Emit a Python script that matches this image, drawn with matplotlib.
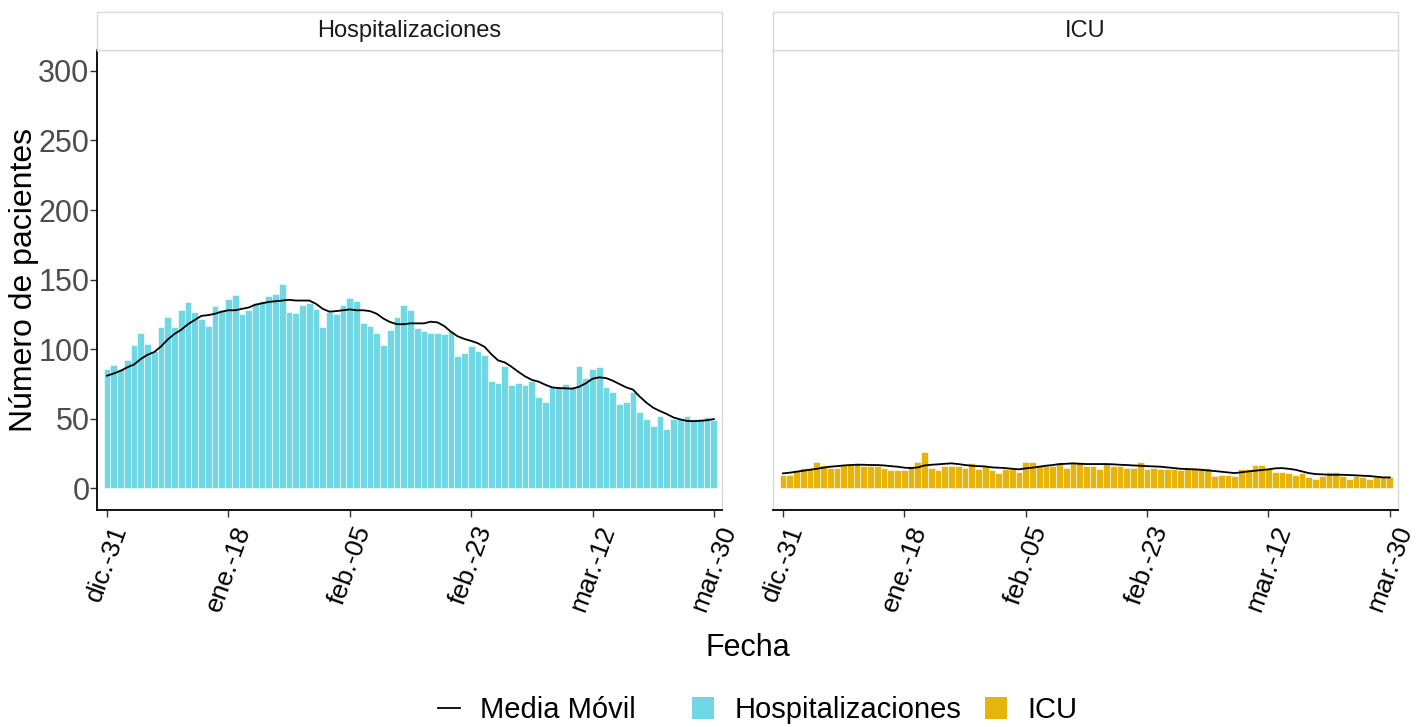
import matplotlib
matplotlib.use("Agg")
import matplotlib.pyplot as plt
from matplotlib.lines import Line2D
from matplotlib.patches import Patch
import pandas as pd

plt.rcParams['font.family'] = ['Liberation Sans', 'DejaVu Sans']

# Serie diaria del 31 de diciembre al 30 de marzo
fechas = pd.date_range("2023-12-31", "2024-03-30", freq="D")

hospitalizaciones = [
    86, 89, 86, 92, 103, 112, 104, 99, 116, 123, 116, 128, 134, 127, 122, 117,
    131, 128, 136, 139, 125, 128, 133, 135, 138, 140, 147, 127, 126, 132, 133,
    129, 116, 127, 125, 132, 137, 135, 119, 117, 112, 103, 114, 123, 132, 128,
    115, 113, 112, 112, 111, 113, 95, 97, 102, 99, 96, 77, 76, 88, 74, 76, 74,
    77, 66, 62, 73, 73, 75, 73, 88, 79, 86, 87, 73, 69, 61, 62, 69, 55, 50, 45,
    52, 43, 50, 50, 52, 50, 50, 51, 49,
]
media_hosp = [
    81, 82.6, 84.5, 87, 89, 93, 96, 98, 102, 107, 111, 114, 118, 121, 124,
    124.5, 125.5, 127, 128, 128, 129, 130, 132, 133, 134, 134.5, 135, 135.5,
    135, 135, 135, 132.6, 129, 127, 127.4, 128, 128.6, 128, 128, 127.4, 125.5,
    122, 119.5, 118, 118, 118.6, 118.6, 118.6, 119.8, 119.3, 116.7, 112.6,
    109.3, 107.4, 106, 104.3, 101.7, 96.4, 92, 90.5, 87.4, 83.8, 80.5, 78,
    76.7, 74.5, 72.6, 72.1, 71.9, 71.7, 73, 75.5, 78.8, 79.8, 79.3, 77.4, 75,
    72.6, 71, 66, 61.6, 58, 55.6, 53.5, 51, 49.6, 48.5, 48.3, 48.6, 49, 49.8,
]
icu = [
    10, 10, 13, 15, 15, 19, 17, 15, 15, 17, 17, 18, 16, 16, 16, 15, 13, 13, 13,
    16, 19, 26, 15, 13, 16, 16, 16, 15, 18, 14, 16, 13, 11, 14, 14, 12, 19, 19,
    16, 16, 16, 18, 15, 19, 19, 16, 16, 14, 18, 16, 16, 15, 15, 19, 14, 15, 14,
    14, 14, 13, 15, 15, 15, 15, 9, 10, 10, 9, 14, 14, 17, 17, 14, 12, 12, 11,
    10, 11, 8, 7, 9, 12, 12, 9, 7, 9, 8, 7, 8, 8, 8,
]
media_icu = [
    10.8, 11.3, 12, 12.7, 13.4, 14.1, 14.9, 15.6, 16, 16.5, 16.8, 17, 17, 16.8,
    16.8, 16.5, 16, 15.6, 14.9, 14.6, 15.1, 16.5, 17, 17.3, 17.7, 18, 17.5,
    16.8, 16.3, 16, 15.8, 15.1, 14.9, 14.6, 14.1, 13.7, 14.4, 14.9, 15.6, 16.3,
    16.8, 17.5, 17.7, 18, 17.7, 17.5, 17.5, 17.5, 17.5, 17.3, 17, 16.8, 16.5,
    16.3, 16, 15.8, 15.6, 15.1, 14.6, 14.1, 13.9, 13.7, 13.4, 12.9, 12.5, 12,
    11.5, 11, 11.6, 12.2, 12.7, 13.2, 13.7, 14.4, 14.6, 14.1, 13.4, 12.2, 11,
    10.3, 10.1, 9.8, 9.8, 9.8, 9.6, 9.4, 9.1, 8.9, 8.4, 7.9, 7.9,
]

meses = {12: 'dic.', 1: 'ene.', 2: 'feb.', 3: 'mar.'}
ticks_fecha = fechas[::18]
etiquetas_fecha = [f"{meses[f.month]}-{f.day:02d}" for f in ticks_fecha]

color_hosp = '#70D8E4'
color_icu = '#E7B40B'
gris_borde = '#D9D9D9'

fig = plt.figure(figsize=(14.17, 7.27), dpi=100)

paneles = [
    ("Hospitalizaciones", hospitalizaciones, media_hosp, color_hosp, 0.0685),
    ("ICU", icu, media_icu, color_icu, 0.5455),
]

for i, (titulo, valores, media, color, izq) in enumerate(paneles):
    ax = fig.add_axes([izq, 0.2985, 0.441, 0.6327])
    ax.bar(fechas, valores, width=1, color=color, edgecolor='white', linewidth=0.4)
    ax.plot(fechas, media, color='black', linewidth=1.3)

    ax.set_ylim(-15.5, 315)
    ax.set_xlim(fechas[0] - pd.Timedelta(days=1.48), fechas[-1] + pd.Timedelta(days=1.2))
    ax.set_yticks([0, 50, 100, 150, 200, 250, 300])
    ax.set_xticks(ticks_fecha)
    ax.set_xticklabels(etiquetas_fecha, rotation=70, fontsize=19, color='black')

    for lado in ['top', 'right', 'left', 'bottom']:
        ax.spines[lado].set_color(gris_borde)
        ax.spines[lado].set_linewidth(1)
    ax.spines['bottom'].set_color('black')
    ax.spines['bottom'].set_linewidth(1.3)
    ax.tick_params(axis='x', length=5, width=1, color='#333333', pad=4)

    if i == 0:
        ax.spines['left'].set_color('black')
        ax.spines['left'].set_linewidth(1.3)
        ax.tick_params(axis='y', length=5, width=1, color='#333333',
                       labelsize=22, labelcolor='#4D4D4D', pad=0.5)
    else:
        ax.tick_params(axis='y', length=0, labelleft=False)

    # Cabecera de cada faceta
    tira = fig.add_axes([izq, 0.9312, 0.441, 0.0523])
    tira.set_xticks([])
    tira.set_yticks([])
    for lado in tira.spines.values():
        lado.set_color(gris_borde)
        lado.set_linewidth(1)
    tira.text(0.5, 0.5, titulo, ha='center', va='center', fontsize=17,
              color='#1A1A1A', transform=tira.transAxes)

fig.text(24 / 1417, 1 - 280 / 727, 'Número de pacientes', rotation=90,
         ha='center', va='center', fontsize=23)
fig.text(748 / 1417, 1 - 648 / 727, 'Fecha', ha='center', va='center', fontsize=22)

# Leyenda inferior: una entrada por elemento, con el espaciado de ggplot
entradas = [
    (Line2D([], [], color='black', linewidth=1.3), 'Media Móvil', 438),
    (Patch(facecolor=color_hosp), 'Hospitalizaciones', 692),
    (Patch(facecolor=color_icu), 'ICU', 985),
]
for handle, etiqueta, x0 in entradas:
    fig.legend([handle], [etiqueta], loc='center left',
               bbox_to_anchor=(x0 / 1417, 1 - 710 / 727), frameon=False,
               fontsize=21, handlelength=0.75, handleheight=0.75,
               handletextpad=0.7, borderpad=0, borderaxespad=0)

fig.savefig('out.png', dpi=100)
